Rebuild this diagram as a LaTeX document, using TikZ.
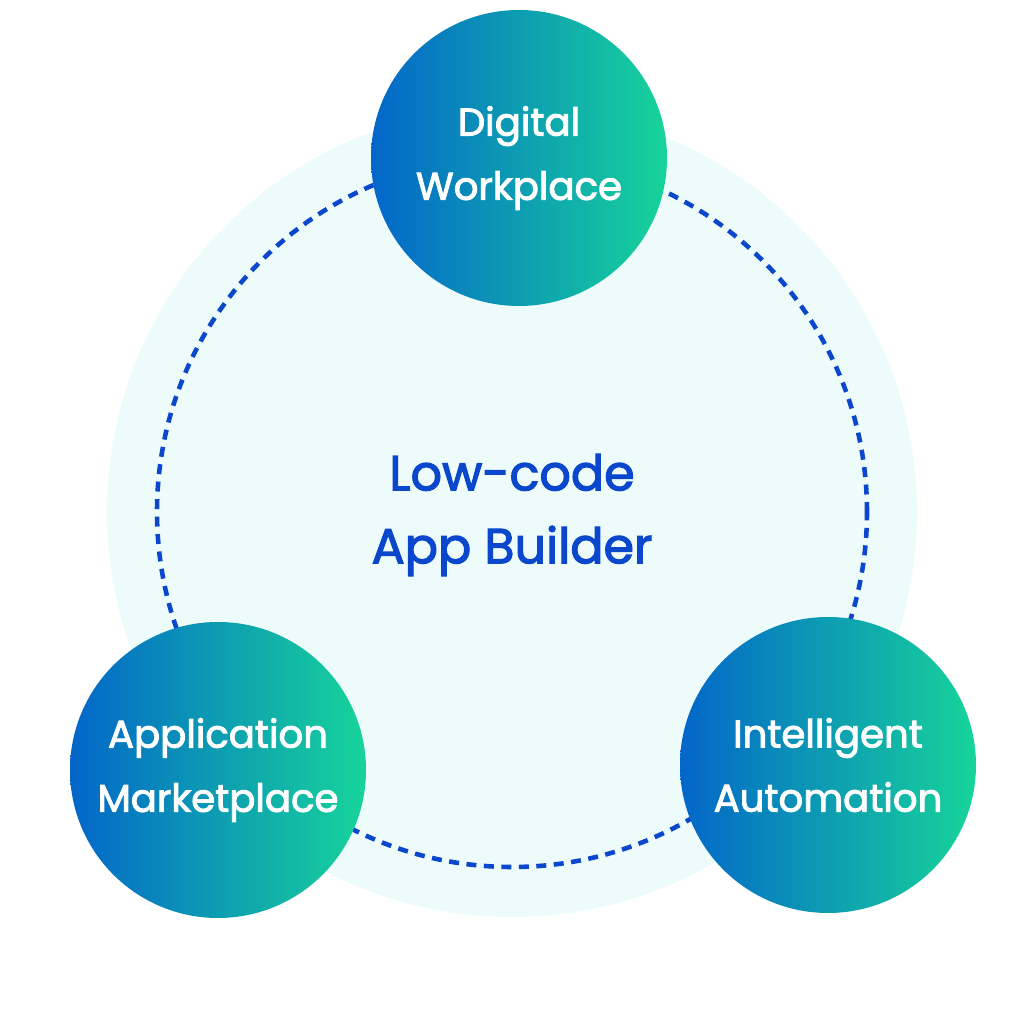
\documentclass[tikz,border=0pt]{standalone}
\usepackage{fontspec}
\setmainfont{Poppins}[FakeBold=2.4]
\usepackage{xcolor}
\usetikzlibrary{positioning}

\definecolor{paleaqua}{HTML}{EEFBFB}
\definecolor{dashblue}{HTML}{0A47CC}
\definecolor{gradblue}{HTML}{0366C9}
\definecolor{gradgreen}{HTML}{17D49A}

\tikzset{
	bubble/.style={circle, minimum size=5.92cm, inner sep=0pt,
		left color=gradblue, right color=gradgreen, shading angle=90,
		text=white, align=center, font=\fontsize{22}{36.5}\selectfont},
	hub/.style={text=dashblue, align=center, font=\fontsize{28}{41.5}\selectfont}
}

\begin{document}
\begin{tikzpicture}
	
	\useasboundingbox (0,0) rectangle (20.48,20.48);
	
	\fill[paleaqua] (10.24,10.24) circle (8.1);
	\draw[dashblue, line width=2.6pt, dash pattern=on 0.2cm off 0.15cm] (10.24,10.24) circle (7.1);
	
	\node[hub] (builder) at (10.24,10.18) {Low-code\\App Builder};
	
	\node[bubble] (workplace) at (10.38,17.32) {Digital\\Workplace};
	\node[bubble] (market) at (4.36,5.08) {Application\\Marketplace};
	\node[bubble] (automation) at (16.56,5.18) {Intelligent\\Automation};
	
\end{tikzpicture}
\end{document}
